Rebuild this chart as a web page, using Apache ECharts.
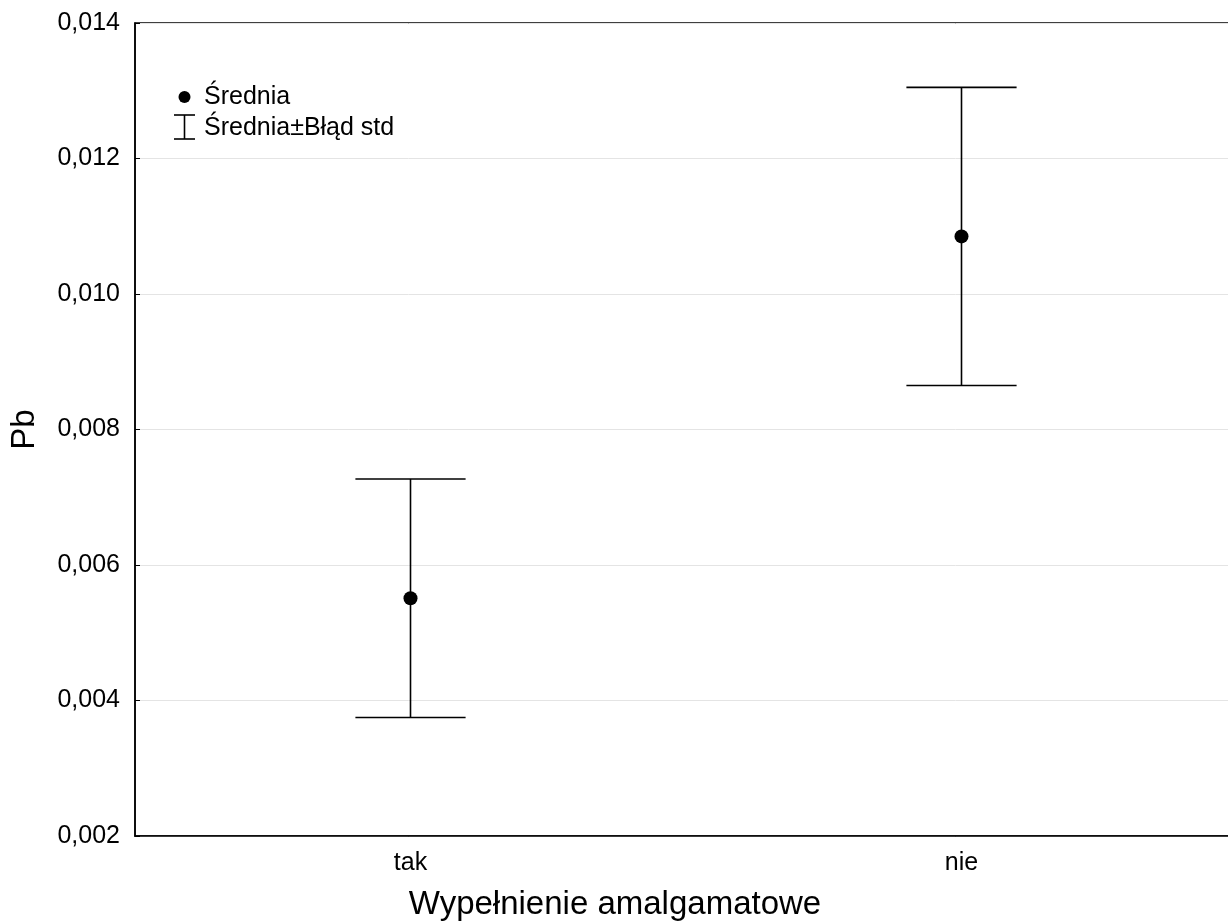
<!DOCTYPE html>
<html>
<head>
<meta charset="utf-8">
<style>
  html, body { margin: 0; padding: 0; background: #fff; overflow: hidden; }
  #chart { width: 1228px; height: 922px; }
</style>
<script src="https://cdn.jsdelivr.net/npm/echarts@6/dist/echarts.min.js"></script>
</head>
<body>
<div id="chart"></div>
<script>
// Groups on the x axis
const categories = ['tak', 'nie'];
// Mean Pb concentration per group
const means = [0.00551, 0.01085];
// Standard error of the mean per group
const stdErrors = [0.00176, 0.0022];
// Value axis range and tick step
const yMin = 0.002;
const yMax = 0.014;
const yStep = 0.002;

const FONT = "'Liberation Sans', Arial, sans-serif";

const errorData = categories.map((c, i) => [i, means[i] - stdErrors[i], means[i] + stdErrors[i]]);
const meanData = categories.map((c, i) => [i, means[i]]);

const chart = echarts.init(document.getElementById('chart'), null, { renderer: 'canvas' });

chart.setOption({
  backgroundColor: '#fff',
  animation: false,
  grid: {
    // the frame's right side runs past the edge of the page
    left: 135, top: 23, width: 1102, height: 813,
    outerBoundsMode: 'none',
    containLabel: false,
    show: true, borderColor: '#000', borderWidth: 1.5, backgroundColor: 'transparent'
  },
  xAxis: {
    type: 'category',
    data: categories,
    boundaryGap: true,
    name: 'Wypełnienie amalgamatowe',
    nameLocation: 'middle',
    nameGap: 52,
    nameTextStyle: { fontFamily: FONT, fontSize: 33, color: '#000', padding: [0, 142, 0, 0] },
    axisLine: { lineStyle: { color: '#000', width: 1.5 } },
    axisTick: { inside: true, length: 4, alignWithLabel: true, lineStyle: { color: '#000' } },
    axisLabel: { fontFamily: FONT, fontSize: 25, color: '#000', margin: 15 },
    splitLine: { show: false }
  },
  yAxis: {
    type: 'value',
    min: yMin, max: yMax, interval: yStep,
    name: 'Pb',
    nameLocation: 'middle',
    nameGap: 94,
    nameRotate: 90,
    nameTextStyle: { fontFamily: FONT, fontSize: 33, color: '#000' },
    axisLine: { show: true, lineStyle: { color: '#000', width: 1.5 } },
    axisTick: { show: true, inside: true, length: 5, lineStyle: { color: '#000' } },
    axisLabel: {
      fontFamily: FONT, fontSize: 25, color: '#000', margin: 15,
      formatter: v => v.toFixed(3).replace('.', ',')
    },
    splitLine: { show: true, lineStyle: { color: '#e4e4e4', width: 1 } }
  },
  series: [
    {
      name: 'Średnia±Błąd std',
      type: 'custom',
      data: errorData,
      encode: { x: 0, y: [1, 2] },
      renderItem: function (params, api) {
        const idx = api.value(0);
        const lo = api.coord([idx, api.value(1)]);
        const hi = api.coord([idx, api.value(2)]);
        const half = api.size([1, 0])[0] * 0.1;
        const style = { stroke: '#000', lineWidth: 1.6, fill: null };
        return {
          type: 'group',
          children: [
            { type: 'line', shape: { x1: hi[0], y1: hi[1], x2: lo[0], y2: lo[1] }, style: style },
            { type: 'line', shape: { x1: hi[0] - half, y1: hi[1], x2: hi[0] + half, y2: hi[1] }, style: style },
            { type: 'line', shape: { x1: lo[0] - half, y1: lo[1], x2: lo[0] + half, y2: lo[1] }, style: style }
          ]
        };
      },
      z: 2
    },
    {
      name: 'Średnia',
      type: 'scatter',
      data: meanData,
      symbol: 'circle',
      symbolSize: 14,
      itemStyle: { color: '#000', opacity: 1 },
      z: 3
    }
  ],
  graphic: [
    {
      type: 'group',
      x: 174, y: 80,
      children: [
        { type: 'circle', shape: { cx: 10.5, cy: 17, r: 6 }, style: { fill: '#000' } },
        { type: 'line', shape: { x1: 0, y1: 35, x2: 21, y2: 35 }, style: { stroke: '#000', lineWidth: 1.6 } },
        { type: 'line', shape: { x1: 10.5, y1: 35, x2: 10.5, y2: 59 }, style: { stroke: '#000', lineWidth: 1.6 } },
        { type: 'line', shape: { x1: 0, y1: 59, x2: 21, y2: 59 }, style: { stroke: '#000', lineWidth: 1.6 } },
        { type: 'text', x: 30, y: 17, style: { text: 'Średnia', font: '25px ' + FONT, fill: '#000', textVerticalAlign: 'middle' } },
        { type: 'text', x: 30, y: 48, style: { text: 'Średnia±Błąd std', font: '25px ' + FONT, fill: '#000', textVerticalAlign: 'middle' } }
      ]
    }
  ]
});
</script>
</body>
</html>
